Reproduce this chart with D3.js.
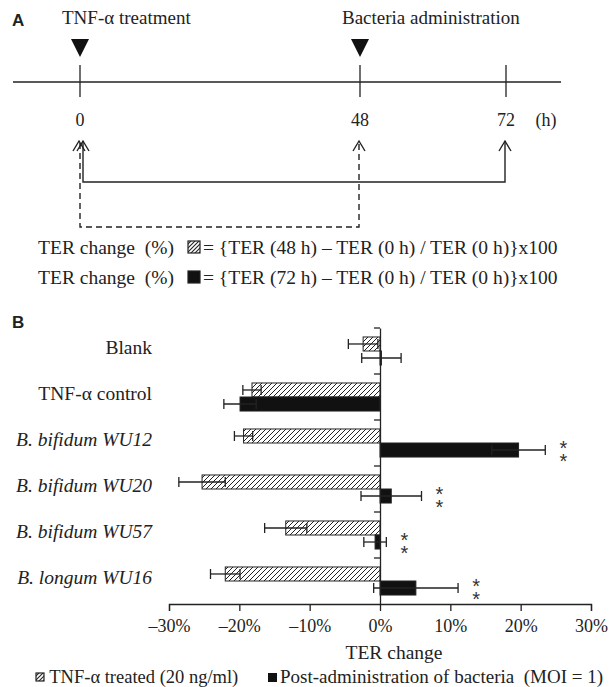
<!DOCTYPE html>
<html>
<head>
<meta charset="utf-8">
<script src="https://cdn.jsdelivr.net/npm/d3@7"></script>
<style>
  body { margin: 0; background: #fff; }
  text { font-family: "Liberation Serif", "DejaVu Serif", serif; fill: #222; white-space: pre; }
  .panel { font-family: "Liberation Sans", Arial, sans-serif; font-weight: bold; font-size: 17px; }
  .stars { writing-mode: vertical-rl; text-orientation: upright; font-family: "Liberation Sans", sans-serif; fill: #333; }
</style>
</head>
<body>
<div id="chart"></div>
<script>
// data
var categories = ["Blank", "TNF-α control", "B. bifidum WU12", "B. bifidum WU20", "B. bifidum WU57", "B. longum WU16"];
var italicCats = [false, false, true, true, true, true];
var treatedValues = [-2.4, -18.2, -19.4, -25.3, -13.4, -22.0];
var treatedErrors = [2.1, 1.3, 1.3, 3.3, 3.0, 2.1];
var bacteriaValues = [0.2, -19.9, 19.7, 1.6, -0.7, 5.1];
var bacteriaErrors = [2.8, 2.3, 3.8, 4.3, 1.6, 6.0];
var significance = ["", "", "**", "**", "**", "**"];
var xTicks = [-30, -20, -10, 0, 10, 20, 30];
var timeHours = [0, 48, 72];
var timeEvents = [{hour: 0, label: "TNF-α treatment"}, {hour: 48, label: "Bacteria administration"}];

var svgWidth = 613;
var svgHeight = 687;

var svg = d3.select("#chart")
  .append("svg")
  .attr("width", svgWidth)
  .attr("height", svgHeight);

var defs = svg.append("defs");
function hatch(id, size, sw) {
  var p = defs.append("pattern")
    .attr("id", id)
    .attr("patternUnits", "userSpaceOnUse")
    .attr("width", size)
    .attr("height", size);
  p.append("rect").attr("width", size).attr("height", size).attr("fill", "#fff");
  p.append("path")
    .attr("d", `M-1,1 l2,-2 M0,${size} l${size},-${size} M${size - 1},${size + 1} l2,-2`)
    .attr("stroke", "#222")
    .attr("stroke-width", sw);
}
hatch("hatch", 5, 1);
hatch("hatchSmall", 4, 1.1);

// ---------------- panel A : timeline ----------------
var gA = svg.append("g");
gA.append("text").attr("class", "panel").attr("x", 12).attr("y", 26).text("A");

var tScale = d3.scaleLinear().domain(timeHours).range([80, 360, 506]);
var lineY = 82;

gA.append("line")
  .attr("x1", 13).attr("x2", 561)
  .attr("y1", lineY).attr("y2", lineY)
  .attr("stroke", "#222").attr("stroke-width", 1.3);

gA.selectAll(".tick").data(timeHours).enter().append("line")
  .attr("x1", d => tScale(d)).attr("x2", d => tScale(d))
  .attr("y1", lineY - 17).attr("y2", lineY + 15)
  .attr("stroke", "#222").attr("stroke-width", 1.3);

gA.selectAll(".hlab").data(timeHours).enter().append("text")
  .attr("x", d => tScale(d)).attr("y", 126)
  .attr("text-anchor", "middle")
  .attr("font-size", 18)
  .text(d => d);
gA.append("text").attr("x", 546).attr("y", 126).attr("text-anchor", "middle")
  .attr("font-size", 18).text("(h)");

gA.selectAll(".tri").data(timeEvents).enter().append("path")
  .attr("d", d => `M${tScale(d.hour) - 9},39 L${tScale(d.hour) + 9},39 L${tScale(d.hour)},57 Z`)
  .attr("fill", "#111");
gA.selectAll(".evlab").data(timeEvents).enter().append("text")
  .attr("x", d => tScale(d.hour) - 18).attr("y", 24)
  .attr("font-size", 19)
  .text(d => d.label);

function arrowHead(g, x, y) {
  g.append("path")
    .attr("d", `M${x - 6},${y + 10} L${x},${y} L${x + 6},${y + 10}`)
    .attr("fill", "none").attr("stroke", "#222").attr("stroke-width", 1.4);
}
// solid bracket 0 -> 72
var solidX0 = tScale(0) + 3;
gA.append("path")
  .attr("d", `M${solidX0},141 V182 H${tScale(72) - 1} V141`)
  .attr("fill", "none").attr("stroke", "#222").attr("stroke-width", 1.4);
arrowHead(gA, solidX0, 141);
arrowHead(gA, tScale(72) - 1, 141);
// dashed bracket 0 -> 48
gA.append("path")
  .attr("d", `M${tScale(0)},143 V227 H${tScale(48) - 1} V143`)
  .attr("fill", "none").attr("stroke", "#222").attr("stroke-width", 1.4)
  .attr("stroke-dasharray", "6,4");
arrowHead(gA, tScale(0) - 1, 141);
arrowHead(gA, tScale(48) - 1, 141);

// formula lines
var formulas = [
  {y: 254, fill: "url(#hatchSmall)", text: "= {TER (48 h) – TER (0 h) / TER (0 h)}x100"},
  {y: 284, fill: "#111", text: "= {TER (72 h) – TER (0 h) / TER (0 h)}x100"}
];
formulas.forEach(function(f) {
  gA.append("text").attr("x", 174).attr("y", f.y).attr("font-size", 19.5)
    .attr("text-anchor", "end").text("TER change  (%)");
  gA.append("rect").attr("x", 188).attr("y", f.y - 13).attr("width", 12).attr("height", 12)
    .attr("fill", f.fill).attr("stroke", "#222").attr("stroke-width", 1.2);
  gA.append("text").attr("x", 203).attr("y", f.y).attr("font-size", 19.5).text(f.text);
});

// ---------------- panel B : bars ----------------
var gB = svg.append("g");
gB.append("text").attr("class", "panel").attr("x", 12).attr("y", 328).text("B");

var xScale = d3.scaleLinear().domain([-30, 30]).range([169, 591]);
var yScale = d3.scaleBand().domain(categories).range([328, 604]).padding(0);
var ySub = d3.scaleBand().domain(["treated", "bacteria"]).range([0, yScale.bandwidth()])
  .paddingInner(0).paddingOuter(0.64);

var rows = categories.map((c, i) => ({
  cat: c, italic: italicCats[i],
  treated: treatedValues[i], treatedErr: treatedErrors[i],
  bacteria: bacteriaValues[i], bacteriaErr: bacteriaErrors[i],
  sig: significance[i]
}));

var bars = [];
rows.forEach(function(r) {
  bars.push({cat: r.cat, key: "treated", v: r.treated, e: r.treatedErr});
  bars.push({cat: r.cat, key: "bacteria", v: r.bacteria, e: r.bacteriaErr});
});

gB.selectAll(".bar").data(bars).enter().append("rect")
  .attr("x", d => xScale(Math.min(0, d.v)))
  .attr("width", d => Math.abs(xScale(d.v) - xScale(0)))
  .attr("y", d => yScale(d.cat) + ySub(d.key))
  .attr("height", ySub.bandwidth())
  .attr("fill", d => d.key === "treated" ? "url(#hatch)" : "#111")
  .attr("stroke", "#222")
  .attr("stroke-width", 1);

// error bars
var errG = gB.selectAll(".err").data(bars).enter().append("g")
  .attr("transform", d => `translate(0, ${yScale(d.cat) + ySub(d.key) + ySub.bandwidth() / 2})`);
errG.append("line")
  .attr("x1", d => xScale(d.v - d.e)).attr("x2", d => xScale(d.v + d.e))
  .attr("stroke", "#222").attr("stroke-width", 1.3);
errG.append("line")
  .attr("x1", d => xScale(d.v - d.e)).attr("x2", d => xScale(d.v - d.e))
  .attr("y1", -5).attr("y2", 5)
  .attr("stroke", "#222").attr("stroke-width", 1.3);
errG.append("line")
  .attr("x1", d => xScale(d.v + d.e)).attr("x2", d => xScale(d.v + d.e))
  .attr("y1", -5).attr("y2", 5)
  .attr("stroke", "#222").attr("stroke-width", 1.3);

// significance stars, stacked vertically in one text
gB.selectAll(".sig").data(rows.filter(r => r.sig)).enter().append("text")
  .attr("class", "stars")
  .attr("font-size", 20)
  .attr("letter-spacing", -9)
  .attr("x", d => xScale(d.bacteria + d.bacteriaErr) + 18)
  .attr("y", d => yScale(d.cat) + ySub("bacteria") - 6)
  .text(d => d.sig);

// axes
var bottomAxis = d3.axisBottom(xScale).tickValues(xTicks).tickSize(7)
  .tickFormat(d => (d < 0 ? "–" + Math.abs(d) : d) + "%");
var xAxis = gB.append("g")
  .attr("transform", `translate(0, ${yScale.range()[1]})`)
  .call(bottomAxis);
xAxis.select(".domain").attr("stroke", "#222").attr("stroke-width", 1.3);
xAxis.selectAll(".tick line").attr("stroke", "#222").attr("stroke-width", 1.3);
xAxis.selectAll(".tick text")
  .attr("font-family", "Liberation Serif, serif")
  .attr("font-size", 18).attr("fill", "#222").attr("dy", "1.0em");

var leftAxis = d3.axisLeft(yScale).tickSize(0).tickFormat("");
var yAxis = gB.append("g")
  .attr("transform", `translate(${xScale(0)}, 0)`)
  .call(leftAxis);
yAxis.select(".domain").attr("stroke", "#222").attr("stroke-width", 1.3);
yAxis.selectAll(".tick").remove();
// separators between categories
var sepTicks = categories.map(c => yScale(c));
yAxis.selectAll(".sep").data(sepTicks).enter().append("line")
  .attr("x1", -6).attr("x2", 0)
  .attr("y1", d => d).attr("y2", d => d)
  .attr("stroke", "#222").attr("stroke-width", 1.3);

// category labels
gB.selectAll(".catlab").data(rows).enter().append("text")
  .attr("x", 152)
  .attr("y", d => yScale(d.cat) + yScale.bandwidth() / 2 + 3)
  .attr("text-anchor", "end")
  .attr("font-size", 19.5)
  .attr("font-style", d => d.italic ? "italic" : "normal")
  .text(d => d.cat);

gB.append("text")
  .attr("x", 394).attr("y", 659)
  .attr("text-anchor", "middle").attr("font-size", 19.5)
  .text("TER change");

// legend
var legend = gB.append("g");
legend.append("rect").attr("x", 36).attr("y", 673).attr("width", 8).attr("height", 8)
  .attr("fill", "url(#hatchSmall)").attr("stroke", "#222").attr("stroke-width", 1.2);
legend.append("text").attr("x", 45).attr("y", 683).attr("font-size", 18.5)
  .text(" TNF-α treated (20 ng/ml)");
legend.append("rect").attr("x", 268).attr("y", 673).attr("width", 9).attr("height", 9)
  .attr("fill", "#111");
legend.append("text").attr("x", 280).attr("y", 683).attr("font-size", 19)
  .text("Post-administration of bacteria  (MOI = 1)");
</script>
</body>
</html>
